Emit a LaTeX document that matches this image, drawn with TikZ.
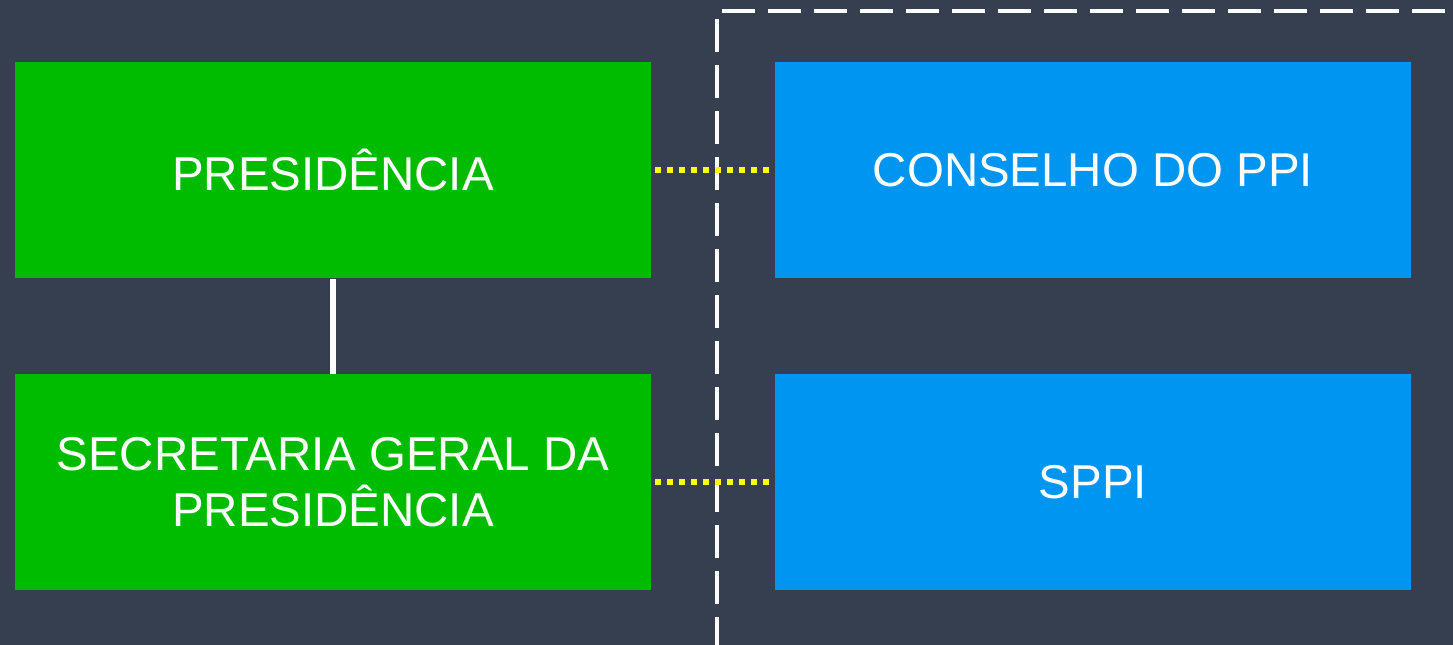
\documentclass[tikz,border=0pt]{standalone}
\usepackage{fontspec}
\setmainfont{Liberation Sans}
\usetikzlibrary{calc}
\usetikzlibrary{positioning}
\definecolor{bgblue}{HTML}{353F50}
\definecolor{boxgreen}{HTML}{00BC00}
\definecolor{boxblue}{HTML}{0095F0}
\definecolor{dotyellow}{HTML}{FFFF00}
\tikzset{
  unit/.style={minimum width=12.72cm, minimum height=4.32cm, inner sep=0pt,
    text=white, align=center, font=\fontsize{27}{32}\selectfont},
  govbox/.style={unit, fill=boxgreen},
  ppibox/.style={unit, fill=boxblue},
  link/.style={draw=white, line width=0.12cm},
  dotlink/.style={draw=dotyellow, line width=0.12cm, dash pattern=on 0.12cm off 0.12cm,
    shorten <=0.08cm, shorten >=0.08cm}
}

\begin{document}
\begin{tikzpicture}
    \useasboundingbox (0,0) rectangle (29.06,12.9);
    \fill [bgblue] (0,0) rectangle (29.06,12.9);
    \begin{scope}
    \clip (0,0) rectangle (29.06,12.9);
    \draw [white, line width=0.07cm, dash pattern=on 0.66cm off 0.26cm] (14.34,-0.1) -- (14.34,12.68) -- (29.4,12.68);
    \end{scope}
    \node [govbox] (pres) at (6.66,9.49) {PRESIDÊNCIA};
    \node [govbox, below=1.9cm of pres] (sgpr) {SECRETARIA GERAL DA\\PRESIDÊNCIA};
    \node [ppibox] (cppi) at (21.86,9.49) {CONSELHO DO PPI};
    \node [ppibox, below=1.9cm of cppi] (sppi) {SPPI};
    \draw [link] (pres.south) -- (sgpr.north);
    \draw [dotlink] (pres.east) -- (cppi.west);
    \draw [dotlink] (sgpr.east) -- (sppi.west);
\end{tikzpicture}
\end{document}
